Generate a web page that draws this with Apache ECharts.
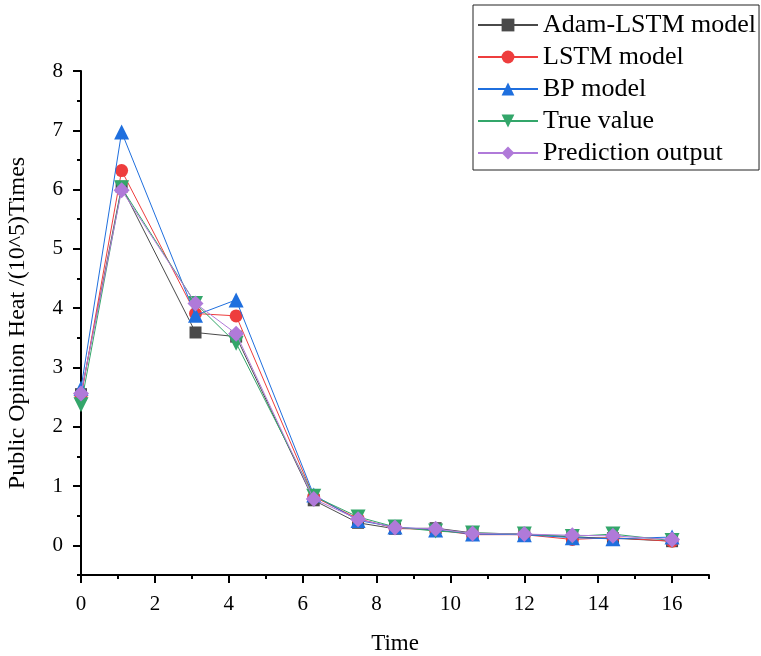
<!DOCTYPE html>
<html>
<head>
<meta charset="utf-8">
<script src="https://cdn.jsdelivr.net/npm/echarts@6/dist/echarts.min.js"></script>
<style>
  html, body { margin: 0; padding: 0; background: #fff; }
  #chart { width: 761px; height: 656px; }
</style>
</head>
<body>
<div id="chart"></div>
<script>
// Time stamps of the samples
const times = [0, 1.1, 3.1, 4.2, 6.3, 7.5, 8.5, 9.6, 10.6, 12, 13.3, 14.4, 16];

// Public opinion heat, in units of 10^5 times
const adamLstm   = [2.55, 6.05, 3.59, 3.52, 0.76, 0.38, 0.28, 0.29, 0.21, 0.19, 0.14, 0.12, 0.07];
const lstm       = [2.50, 6.32, 3.91, 3.87, 0.82, 0.45, 0.29, 0.26, 0.18, 0.18, 0.10, 0.13, 0.07];
const bp         = [2.65, 6.97, 3.88, 4.14, 0.85, 0.42, 0.31, 0.26, 0.19, 0.18, 0.13, 0.11, 0.14];
const trueValue  = [2.37, 6.03, 4.08, 3.41, 0.83, 0.48, 0.31, 0.24, 0.21, 0.19, 0.15, 0.19, 0.08];
const prediction = [2.56, 5.99, 4.08, 3.57, 0.78, 0.44, 0.30, 0.28, 0.20, 0.19, 0.17, 0.16, 0.10];

const seriesNames = ['Adam-LSTM model', 'LSTM model', 'BP model', 'True value', 'Prediction output'];

// Tick positions
const xMajorTicks = [0, 2, 4, 6, 8, 10, 12, 14, 16];
const xMinorTicks = [1, 3, 5, 7, 9, 11, 13, 15, 17];
const yMajorTicks = [0, 1, 2, 3, 4, 5, 6, 7, 8];
const yMinorTicks = [-0.5, 0.5, 1.5, 2.5, 3.5, 4.5, 5.5, 6.5, 7.5];

const FONT = "'Liberation Serif', 'Times New Roman', serif";
const INK = '#000';

const styles = [
  { color: '#4a4a4a', symbol: 'rect',     size: 12, rotate: 0 },
  { color: '#ee3d3d', symbol: 'circle',   size: 13, rotate: 0 },
  { color: '#1f6fde', symbol: 'triangle', size: 15, rotate: 0 },
  { color: '#33a66a', symbol: 'triangle', size: 15, rotate: 180 },
  { color: '#b07ad9', symbol: 'diamond',  size: 16, rotate: 0 }
];
const values = [adamLstm, lstm, bp, trueValue, prediction];

const series = values.map((vals, i) => ({
  name: seriesNames[i],
  type: 'line',
  xAxisIndex: 0,
  yAxisIndex: 0,
  data: times.map((t, k) => [t, vals[k]]),
  symbol: styles[i].symbol,
  symbolSize: styles[i].size,
  symbolRotate: styles[i].rotate,
  lineStyle: { color: styles[i].color, width: 1 },
  itemStyle: { color: styles[i].color },
  emphasis: { disabled: true },
  animation: false,
  z: 2 + i
}));

const majorX = {
  type: 'value', min: 0, max: 17, interval: 1, position: 'bottom',
  name: 'Time', nameLocation: 'middle', nameGap: 57,
  nameTextStyle: { fontFamily: FONT, fontSize: 23, color: INK },
  axisLine: { show: true, onZero: false, lineStyle: { color: INK, width: 2 } },
  axisTick: { show: true, length: 8, lineStyle: { color: INK, width: 2 }, customValues: xMajorTicks },
  axisLabel: { show: true, margin: 19, fontFamily: FONT, fontSize: 21, color: INK,
               customValues: xMajorTicks,
               formatter: v => (v % 2 === 0 && v <= 16 ? String(v) : '') },
  splitLine: { show: false }
};
const minorX = {
  type: 'value', min: 0, max: 17, interval: 1, position: 'bottom',
  axisLine: { show: false, onZero: false },
  axisTick: { show: true, length: 4, lineStyle: { color: INK, width: 2 }, customValues: xMinorTicks },
  axisLabel: { show: false },
  splitLine: { show: false }
};
const majorY = {
  type: 'value', min: -0.5, max: 8, interval: 0.5, position: 'left',
  name: 'Public Opinion Heat /(10^5)Times', nameLocation: 'middle', nameGap: 51, nameRotate: 90,
  nameTextStyle: { fontFamily: FONT, fontSize: 24, color: INK },
  axisLine: { show: true, onZero: false, lineStyle: { color: INK, width: 2 } },
  axisTick: { show: true, length: 8, lineStyle: { color: INK, width: 2 }, customValues: yMajorTicks },
  axisLabel: { show: true, margin: 18, fontFamily: FONT, fontSize: 21, color: INK,
               customValues: yMajorTicks,
               formatter: v => (Number.isInteger(v) && v >= 0 ? String(v) : '') },
  splitLine: { show: false }
};
const minorY = {
  type: 'value', min: -0.5, max: 8, interval: 0.5, position: 'left',
  axisLine: { show: false, onZero: false },
  axisTick: { show: true, length: 4, lineStyle: { color: INK, width: 2 }, customValues: yMinorTicks },
  axisLabel: { show: false },
  splitLine: { show: false }
};

const chart = echarts.init(document.getElementById('chart'), null, { renderer: 'canvas' });
chart.setOption({
  animation: false,
  backgroundColor: '#fff',
  grid: { left: 81, right: 52, top: 71, bottom: 81, containLabel: false, outerBoundsMode: 'none' },
  xAxis: [majorX, minorX],
  yAxis: [majorY, minorY],
  legend: {
    orient: 'vertical',
    left: 473, top: 5,
    padding: [7, 3, 4, 4],
    borderColor: '#222', borderWidth: 1, backgroundColor: '#fff',
    itemWidth: 60, itemHeight: 16, itemGap: 6,
    textStyle: { fontFamily: FONT, fontSize: 26, lineHeight: 26, color: INK },
    data: seriesNames,
    selectedMode: false
  },
  series: series
});
</script>
</body>
</html>
